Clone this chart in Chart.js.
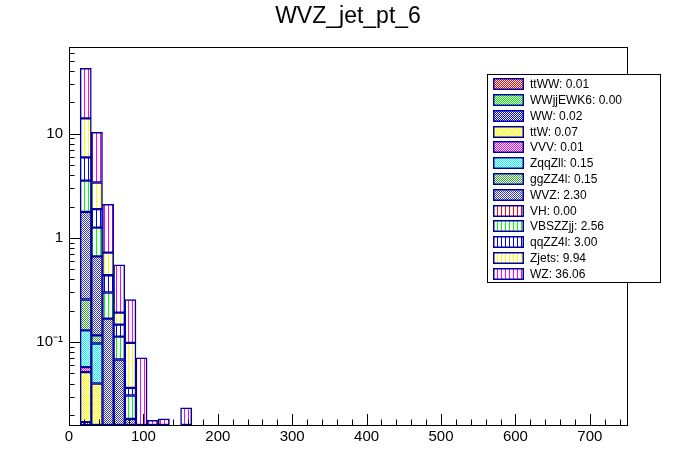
<!DOCTYPE html>
<html>
<head>
<meta charset="utf-8">
<script src="https://cdn.jsdelivr.net/npm/chart.js@4/dist/chart.umd.min.js"></script>
<style>
  body { margin: 0; background: #fff; font-family: "Liberation Sans", Arial, sans-serif; }
  #wrap { position: relative; width: 696px; height: 472px; }
  #titulo { position: absolute; left: 0; width: 696px; top: 4px; text-align: center; font-size: 23px; line-height: 23px; color: #000; }
  #leyenda { position: absolute; left: 487px; top: 74px; width: 174px; height: 209px; border: 1px solid #000; background: #fff; box-sizing: border-box; }
  .fila { position: absolute; left: 0; height: 16px; display: flex; align-items: center; font-size: 12px; color: #000; white-space: nowrap; }
  .fila canvas { margin-left: 5px; margin-right: 6px; }
</style>
</head>
<body>
<div id="wrap">
  <canvas id="grafico" width="696" height="472"></canvas>
  <div id="titulo">WVZ_jet_pt_6</div>
  <div id="leyenda"></div>
</div>
<script>
// bin centres (GeV), bins are 15 wide
const centros = [22.5, 37.5, 52.5, 67.5, 82.5, 97.5, 112.5, 127.5, 142.5, 157.5];

// per-process content of each bin, stacked bottom -> top
const ttWW     = [0, 0, 0, 0, 0, 0, 0, 0, 0, 0];
const WWjjEWK6 = [0, 0, 0, 0, 0, 0, 0, 0, 0, 0];
const WW       = [0.017, 0, 0, 0, 0, 0, 0, 0, 0, 0];
const ttW      = [0.0345, 0.040, 0, 0, 0, 0, 0, 0, 0, 0];
const VVV      = [0.006, 0, 0, 0, 0, 0, 0, 0, 0, 0];
const ZqqZll   = [0.072, 0.057, 0, 0, 0, 0, 0, 0, 0, 0];
const ggZZ4l   = [0.127, 0.019, 0, 0, 0, 0, 0, 0, 0, 0];
const WVZ      = [1.52, 0.55, 0.168, 0.068, 0.0183, 0, 0, 0, 0, 0];
const VH       = [0, 0, 0, 0, 0, 0, 0, 0, 0, 0];
const VBSZZjj  = [1.77, 0.59, 0.131, 0.045, 0.0124, 0, 0, 0, 0, 0];
const qqZZ4l   = [2.38, 0.63, 0.139, 0.034, 0.0057, 0, 0, 0, 0, 0];
const Zjets    = [8.1, 1.52, 0.285, 0.045, 0.062, 0, 0, 0, 0, 0];
const WZ       = [28.5, 6.9, 1.38, 0.36, 0.158, 0.0707, 0.0177, 0.0183, 0, 0.0234];

const nombres = ["ttWW", "WWjjEWK6", "WW", "ttW", "VVV", "ZqqZll", "ggZZ4l", "WVZ", "VH", "VBSZZjj", "qqZZ4l", "Zjets", "WZ"];
const series = [ttWW, WWjjEWK6, WW, ttW, VVV, ZqqZll, ggZZ4l, WVZ, VH, VBSZZjj, qqZZ4l, Zjets, WZ];
const totales = ["0.01", "0.00", "0.02", "0.07", "0.01", "0.15", "0.15", "2.30", "0.00", "2.56", "3.00", "9.94", "36.06"];
const colores = ["#ff0000", "#00ff00", "#0000ff", "#ffff00", "#ff00ff", "#00ffff", "#33aa33", "#3838c0",
                 "#ff0000", "#00ff00", "#0000ff", "#ffff00", "#ff00ff"];
const tramas = ["cuadros", "cuadros", "cuadros", "cuadros", "cuadros", "cuadros", "cuadros", "cuadros",
                "rayas", "rayas", "rayas", "rayas", "rayas"];
const borde = "#00009c";

// axis ticks
const xTicks = [];
for (let v = 0; v <= 740; v += 20) xTicks.push(v);
const yTicks = [];
for (let e = -2; e <= 1; e++) for (let m = 1; m <= 9; m++) {
  const v = m * Math.pow(10, e);
  if (v >= 0.016 && v <= 68) yTicks.push(v);
}

function esPotencia(v) {
  const l = Math.log10(v);
  return Math.abs(l - Math.round(l)) < 1e-6;
}

function trama(tipo, color) {
  const c = document.createElement("canvas");
  const g = c.getContext("2d");
  if (tipo === "rayas") {
    c.width = 4; c.height = 1;
    g.fillStyle = "#fff"; g.fillRect(0, 0, 4, 1);
    g.fillStyle = color; g.fillRect(0, 0, 1, 1);
  } else {
    c.width = 2; c.height = 2;
    g.fillStyle = "#fff"; g.fillRect(0, 0, 2, 2);
    g.fillStyle = color; g.fillRect(0, 0, 1, 1); g.fillRect(1, 1, 1, 1);
  }
  return g.createPattern(c, "repeat");
}

const ctx = document.getElementById("grafico").getContext("2d");

const datasets = series.map((s, i) => ({
  label: nombres[i],
  data: s.map((v, j) => ({ x: centros[j], y: v || null })),
  backgroundColor: trama(tramas[i], colores[i]),
  borderColor: borde,
  borderWidth: 1.5,
  borderSkipped: false,
  barPercentage: 1,
  categoryPercentage: 1
}));

// ROOT style frame with ticks pointing inwards
const marco = {
  id: "marco",
  afterDraw(chart) {
    const { ctx, chartArea: a, scales: { x, y } } = chart;
    ctx.save();
    ctx.strokeStyle = "#000";
    ctx.lineWidth = 1;
    ctx.strokeRect(Math.round(a.left) + 0.5, Math.round(a.top) + 0.5, Math.round(a.right - a.left), Math.round(a.bottom - a.top));
    ctx.beginPath();
    x.ticks.forEach(t => {
      const px = Math.round(x.getPixelForValue(t.value)) + 0.5;
      const largo = t.value % 100 === 0 ? 11 : 5.5;
      ctx.moveTo(px, a.bottom);
      ctx.lineTo(px, a.bottom - largo);
    });
    y.ticks.forEach(t => {
      const py = Math.round(y.getPixelForValue(t.value)) + 0.5;
      const largo = esPotencia(t.value) ? 11 : 5.5;
      ctx.moveTo(a.left, py);
      ctx.lineTo(a.left + largo, py);
    });
    ctx.stroke();
    ctx.restore();
  }
};

Chart.defaults.font.family = '"Liberation Sans", Arial, sans-serif';
Chart.defaults.color = "#000";

new Chart(ctx, {
  type: "bar",
  data: { datasets },
  options: {
    responsive: false,
    animation: false,
    layout: { padding: { top: 47, right: 69, left: 0, bottom: 0 } },
    plugins: { legend: { display: false }, tooltip: { enabled: false } },
    scales: {
      x: {
        type: "linear",
        stacked: true,
        offset: false,
        min: 0,
        max: 750,
        grid: { display: false, drawTicks: false, offset: false },
        border: { display: false },
        afterBuildTicks: s => { s.ticks = xTicks.map(v => ({ value: v })); },
        afterFit: s => { s.height = 47; },
        ticks: {
          autoSkip: false,
          maxRotation: 0,
          padding: 3,
          font: { size: 15 },
          callback: v => (v % 100 === 0 ? String(v) : "")
        }
      },
      y: {
        type: "logarithmic",
        stacked: true,
        min: 0.016,
        max: 68,
        grid: { display: false, drawTicks: false },
        border: { display: false },
        afterBuildTicks: s => { s.ticks = yTicks.map(v => ({ value: v })); },
        afterFit: s => { s.width = 69; },
        ticks: {
          autoSkip: false,
          padding: 6,
          font: { size: 15 },
          callback: v => {
            if (!esPotencia(v)) return "";
            const e = Math.round(Math.log10(v));
            if (e === 0) return "1";
            if (e === 1) return "10";
            return "10\u207B" + String(-e).replace("1", "\u00B9").replace("2", "\u00B2");
          }
        }
      }
    }
  },
  plugins: [marco]
});

// legend drawn as html rows with the same fill patterns
const leyenda = document.getElementById("leyenda");
nombres.forEach((n, i) => {
  const fila = document.createElement("div");
  fila.className = "fila";
  fila.style.top = (1.3 + 15.78 * i) + "px";
  const c = document.createElement("canvas");
  c.width = 31; c.height = 12;
  const g = c.getContext("2d");
  g.fillStyle = trama(tramas[i], colores[i]);
  g.fillRect(0, 0, 31, 12);
  g.strokeStyle = borde;
  g.lineWidth = 1.5;
  g.strokeRect(0.75, 0.75, 29.5, 10.5);
  fila.appendChild(c);
  const txt = document.createElement("span");
  txt.textContent = `${n}: ${totales[i]}`;
  fila.appendChild(txt);
  leyenda.appendChild(fila);
});
</script>
</body>
</html>
